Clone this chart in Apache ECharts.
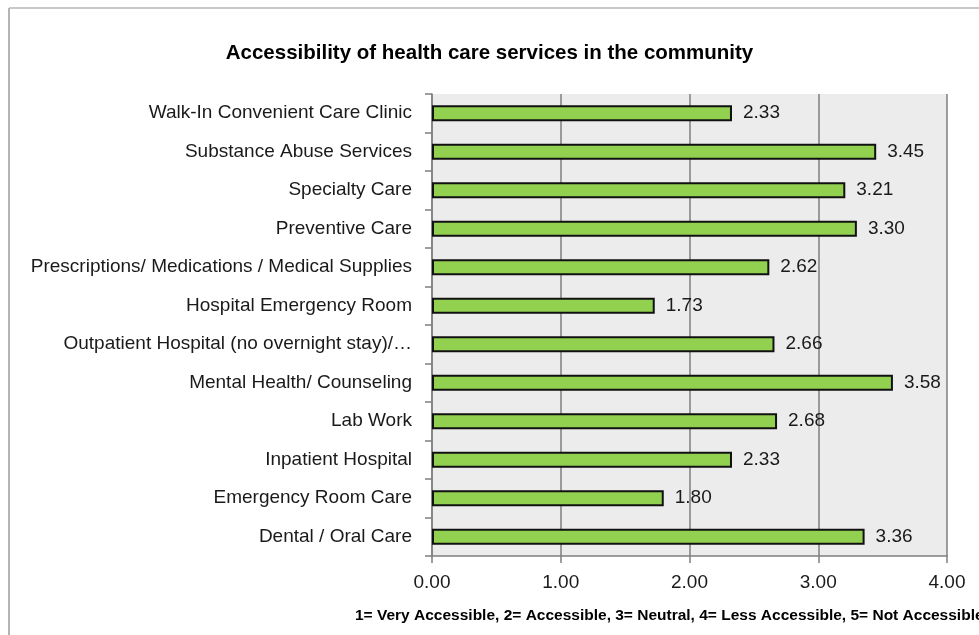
<!DOCTYPE html>
<html>
<head>
<meta charset="utf-8">
<script src="https://cdn.jsdelivr.net/npm/echarts@6/dist/echarts.min.js"></script>
<style>
html,body{margin:0;padding:0;background:#fff;}
#chart{width:979px;height:635px;}
</style>
</head>
<body>
<div id="chart"></div>
<script>
const categories = [
  "Walk-In Convenient Care Clinic",
  "Substance Abuse Services",
  "Specialty Care",
  "Preventive Care",
  "Prescriptions/ Medications / Medical Supplies",
  "Hospital Emergency Room",
  "Outpatient Hospital (no overnight stay)/\u2026",
  "Mental Health/ Counseling",
  "Lab Work",
  "Inpatient Hospital",
  "Emergency Room Care",
  "Dental / Oral Care"
];
const values = [2.33, 3.45, 3.21, 3.30, 2.62, 1.73, 2.66, 3.58, 2.68, 2.33, 1.80, 3.36];
const xTicks = [0, 1, 2, 3, 4];
const titleText = "Accessibility of health care services in the community";
const noteText = "1= Very Accessible, 2= Accessible, 3= Neutral, 4= Less Accessible, 5= Not Accessible";

const FONT = '"Liberation Sans", Arial, sans-serif';
const chart = echarts.init(document.getElementById('chart'), null, {renderer: 'canvas'});
chart.setOption({
  animation: false,
  backgroundColor: '#ffffff',
  title: {
    text: titleText,
    left: 'center',
    top: 38,
    textStyle: {fontFamily: FONT, fontSize: 20.5, fontWeight: 'bold', color: '#000'}
  },
  graphic: [
    {type: 'line', shape: {x1: 9, y1: 8, x2: 979, y2: 8}, style: {stroke: '#c8c8c8', lineWidth: 2}},
    {type: 'line', shape: {x1: 9, y1: 8, x2: 9, y2: 635}, style: {stroke: '#b4b4b4', lineWidth: 2}},
    {type: 'text', left: 355, top: 608, style: {text: noteText, font: 'bold 15.5px ' + FONT, fill: '#000'}}
  ],
  grid: {
    left: 432, right: 32, top: 94, bottom: 79,
    show: true, backgroundColor: '#ececec', borderWidth: 0
  },
  xAxis: {
    type: 'value',
    min: xTicks[0], max: xTicks[xTicks.length - 1], interval: 1,
    axisLine: {show: true, lineStyle: {color: '#7f7f7f', width: 1.5}},
    axisTick: {show: true, length: 7, lineStyle: {color: '#7f7f7f', width: 1.5}},
    splitLine: {show: true, lineStyle: {color: '#7f7f7f', width: 1.5}},
    axisLabel: {
      margin: 17, fontFamily: FONT, fontSize: 19, color: '#1a1a1a',
      formatter: v => v.toFixed(2)
    }
  },
  yAxis: {
    type: 'category',
    data: categories,
    inverse: true,
    axisLine: {show: true, lineStyle: {color: '#7f7f7f', width: 1.5}},
    axisTick: {show: true, length: 7, lineStyle: {color: '#7f7f7f', width: 1.5}},
    axisLabel: {margin: 20, fontFamily: FONT, fontSize: 19, color: '#1a1a1a'}
  },
  series: [{
    type: 'bar',
    data: values,
    barWidth: 16,
    itemStyle: {color: '#92d050', borderColor: '#111111', borderWidth: 2},
    label: {
      show: true, position: 'right', distance: 11,
      fontFamily: FONT, fontSize: 19, color: '#1a1a1a',
      formatter: p => p.value.toFixed(2)
    }
  }]
});
</script>
</body>
</html>
